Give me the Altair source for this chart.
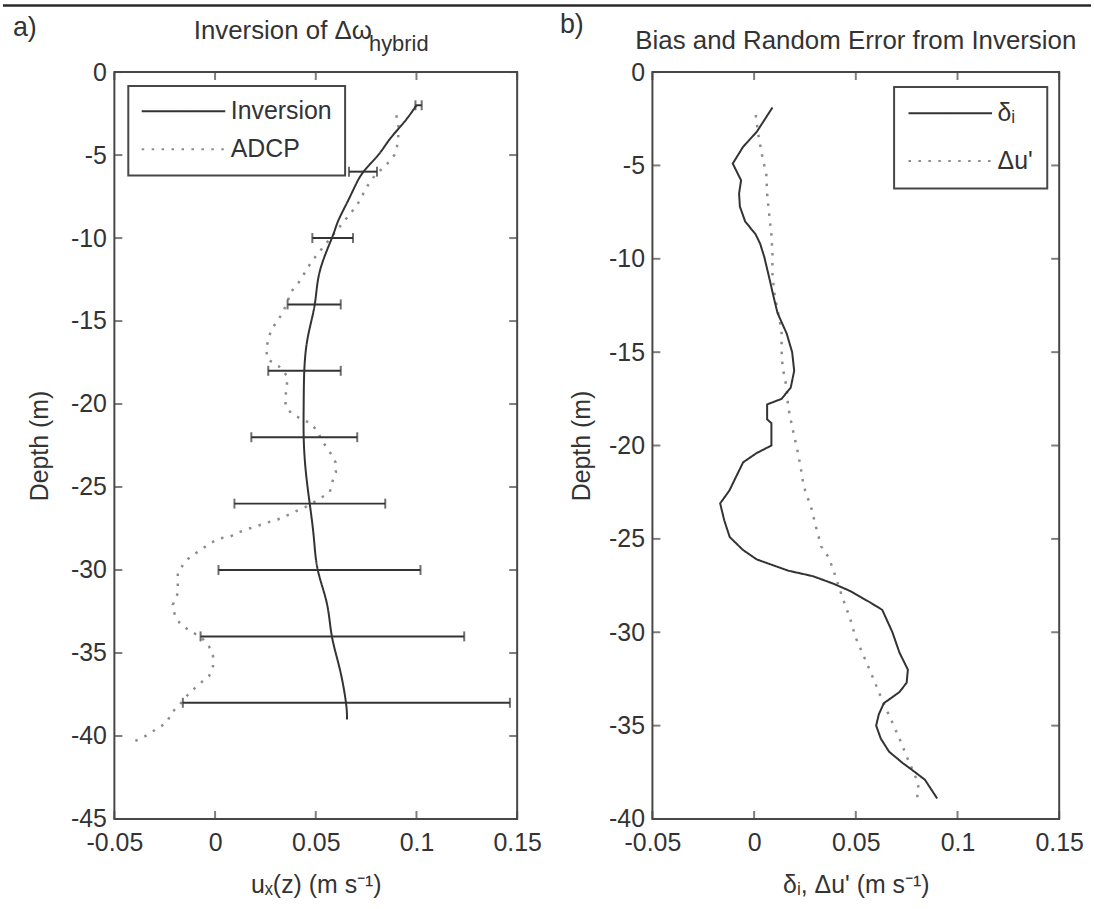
import altair as alt
import pandas as pd

# ---------------- data ----------------
# panel a) : inversion profile (solid) and ADCP profile (dotted)
inv_depth = [-2, -3, -4, -5, -6, -7, -8, -9, -10, -12, -14, -16, -18, -20, -22, -24,
             -26, -28, -30, -32, -34, -36, -38, -39]
inv_u = [0.100, 0.094, 0.087, 0.081, 0.0737, 0.069, 0.065, 0.061, 0.058, 0.052, 0.0495,
         0.046, 0.0443, 0.0440, 0.0440, 0.045, 0.047, 0.049, 0.051, 0.0555, 0.058, 0.062,
         0.065, 0.0655]

adcp_depth = [-2.6, -3.2, -3.8, -4.4, -5.0, -5.6, -6.2, -6.8, -7.3, -7.9, -8.4, -9.0, -9.6,
              -10.2, -10.8, -11.4, -12.0, -12.6, -13.2, -13.8, -14.4, -14.9, -15.5, -16.1,
              -16.7, -17.3, -17.7, -18.3, -18.9, -19.5, -20.1, -20.6, -20.9, -21.2, -21.7,
              -22.3, -22.9, -23.5, -24.1, -24.7, -25.3, -25.7, -26.2, -26.6, -26.9, -27.1,
              -27.3, -27.5, -27.7, -28.0, -28.1, -28.4, -28.8, -29.2, -29.7, -30.2, -30.8,
              -31.4, -32.1, -32.7, -33.2, -33.7, -34.0, -34.6, -35.2, -35.8, -36.4, -36.9,
              -37.5, -38.1, -38.6, -39.2, -39.6, -40.0, -40.3]
adcp_u = [0.090, 0.091, 0.091, 0.0905, 0.089, 0.085, 0.0795, 0.076, 0.0737, 0.071, 0.068,
          0.064, 0.060, 0.056, 0.052, 0.048, 0.045, 0.042, 0.038, 0.036, 0.034, 0.0315,
          0.028, 0.0264, 0.0254, 0.026, 0.0315, 0.0357, 0.0357, 0.035, 0.035, 0.038, 0.043,
          0.048, 0.051, 0.0536, 0.057, 0.0598, 0.060, 0.0582, 0.057, 0.052, 0.045, 0.0376,
          0.0325, 0.027, 0.022, 0.017, 0.0124, 0.0072, 0.0021, -0.0026, -0.0072, -0.0124,
          -0.016, -0.0185, -0.0185, -0.0185, -0.021, -0.020, -0.0175, -0.0124, -0.0072,
          -0.003, -0.001, -0.001, -0.003, -0.0082, -0.0134, -0.0175, -0.0216, -0.024,
          -0.0294, -0.0345, -0.0397]

err_depth = [-2, -6, -10, -14, -18, -22, -26, -30, -34, -38]
err_lo = [0.0995, 0.0665, 0.0483, 0.036, 0.0264, 0.018, 0.0096, 0.0017, -0.0072, -0.016]
err_hi = [0.1026, 0.0804, 0.0685, 0.0624, 0.0624, 0.0706, 0.0845, 0.102, 0.1237, 0.1464]

# panel b) : bias (solid) and random error (dotted)
delta_depth = [-1.9, -3.2, -4.0, -4.9, -5.8, -6.5, -7.2, -8.0, -8.7, -9.2, -9.9, -11.0, -12.0,
               -12.9, -14.0, -15.0, -16.0, -16.9, -17.5, -17.8, -18.6, -18.8, -20.0, -20.4,
               -20.9, -21.7, -22.4, -23.1, -24.0, -24.9, -25.6, -26.1, -26.7, -27.0, -27.4,
               -27.8, -28.4, -28.8, -30.0, -31.1, -32.0, -32.7, -33.2, -33.8, -34.4, -35.0,
               -35.7, -36.4, -37.0, -37.4, -37.9, -38.4, -38.9]
delta_val = [0.009, 0.0013, -0.0054, -0.0105, -0.0064, -0.0074, -0.007, -0.0044, 0.0008,
             0.003, 0.005, 0.0074, 0.0095, 0.0115, 0.016, 0.0187, 0.0197, 0.018, 0.0135,
             0.0064, 0.0064, 0.0085, 0.0085, 0.0013, -0.0054, -0.009, -0.0121, -0.0167,
             -0.0147, -0.012, -0.0054, 0.0013, 0.0167, 0.029, 0.039, 0.0474, 0.057, 0.063,
             0.068, 0.0715, 0.0756, 0.075, 0.0715, 0.0638, 0.0613, 0.060, 0.0623, 0.0664,
             0.073, 0.078, 0.084, 0.087, 0.090]

du_depth = [-2.3, -3.3, -4.4, -5.5, -6.5, -7.6, -8.7, -9.7, -10.8, -11.9, -13.0, -13.8, -14.9,
            -15.8, -16.9, -17.9, -19.0, -20.1, -21.1, -22.2, -23.3, -24.4, -25.4, -26.0,
            -27.0, -28.1, -29.2, -30.3, -31.3, -32.5, -33.6, -34.7, -35.7, -36.8, -37.9,
            -38.4, -38.9]
du_val = [0.0008, 0.002, 0.0038, 0.006, 0.0064, 0.0074, 0.0085, 0.009, 0.009, 0.010, 0.012,
          0.0135, 0.0135, 0.014, 0.016, 0.0167, 0.0187, 0.021, 0.0228, 0.0244, 0.028, 0.0305,
          0.033, 0.0367, 0.040, 0.0433, 0.047, 0.050, 0.054, 0.0587, 0.0628, 0.0674, 0.0715,
          0.0756, 0.080, 0.081, 0.080]

# axis ticks / labels
x_ticks = [-0.05, 0, 0.05, 0.1, 0.15]
ya_ticks = [0, -5, -10, -15, -20, -25, -30, -35, -40, -45]
yb_ticks = [0, -5, -10, -15, -20, -25, -30, -35, -40]

series_a = ["Inversion", "ADCP"]
series_b = ["\u03b4\u1d62", "\u0394u'"]

title_a_main = "Inversion of \u0394\u03c9"
title_a_sub = "hybrid"
title_b = "Bias and Random Error from Inversion"
xtitle_a = "u\u2093(z) (m s\u207b\u00b9)"
xtitle_b = "\u03b4\u1d62, \u0394u' (m s\u207b\u00b9)"
ytitle = "Depth (m)"

# ---------------- styling ----------------
FONT = "Liberation Sans"
INK = "#333333"
FRAME = "#474747"
DOT = "#8c8c8c"
FS = 25      # tick labels, legend, axis titles
FT = 26      # panel titles
WA, WB, H = 405, 409, 751
FIX = "replace(datum.label, '\u2212', '-')"

xs = alt.Scale(domain=[-0.05, 0.15], nice=False, zero=False)
ys_a = alt.Scale(domain=[-45, 0], nice=False, zero=False)
ys_b = alt.Scale(domain=[-40, 0], nice=False, zero=False)


def x_axis(title, w):
    return alt.Axis(values=x_ticks, format=".2~f", labelExpr=FIX, ticks=False, domain=False,
                    grid=False, labelFont=FONT, labelFontSize=FS, labelColor=INK,
                    labelPadding=12, labelFlush=False, labelOverlap=False,
                    title=title, titleFont=FONT, titleFontSize=FS, titleFontWeight="normal",
                    titleColor=INK, titleX=w / 2, titleY=66, titleAlign="center",
                    titleBaseline="middle", titleAngle=0)


def y_axis(vals, tx):
    return alt.Axis(values=vals, format="d", labelExpr=FIX, ticks=False, domain=False,
                    grid=False, labelFont=FONT, labelFontSize=FS, labelColor=INK,
                    labelPadding=8, labelFlush=False, labelOverlap=False,
                    title=ytitle, titleFont=FONT, titleFontSize=FS, titleFontWeight="normal",
                    titleColor=INK, titleX=tx, titleY=H / 2, titleAlign="center",
                    titleBaseline="middle", titleAngle=270)


def legend(lx, ly, pad, rowpad, mode):
    kw = dict(title=None, orient="none", legendX=lx, legendY=ly, direction="vertical",
              fillColor="white", strokeColor=FRAME, padding=pad, rowPadding=rowpad,
              symbolType="M-4,0H4", symbolSize=441, symbolOffset=30, labelOffset=35,
              symbolStrokeWidth=2, labelFont=FONT, labelFontSize=FS, labelColor=INK,
              labelLimit=400)
    if mode == 0:
        kw["strokeWidth"] = 2
    return alt.Legend(**kw)


def series_df(depth, vals, name, field):
    return pd.DataFrame({"val": vals, "depth": depth, field: name,
                         "idx": list(range(len(vals)))})


def line_layer(df, field, domain, yscale, xax, yax, leg, interp, sw):
    return alt.Chart(df).mark_line(interpolate=interp, strokeWidth=sw).encode(
        x=alt.X("val:Q", scale=xs, axis=xax),
        y=alt.Y("depth:Q", scale=yscale, axis=yax),
        order=alt.Order("idx:Q"),
        color=alt.Color(f"{field}:N", scale=alt.Scale(domain=domain, range=[INK, DOT]),
                        legend=leg),
        strokeDash=alt.StrokeDash(f"{field}:N",
                                  scale=alt.Scale(domain=domain, range=[[1, 0], [2.5, 7.5]]),
                                  legend=leg),
    )


def frame_ticks(yvals, yscale, w, xax, yax):
    tx = pd.DataFrame({"v": x_ticks})
    ty = pd.DataFrame({"v": yvals})
    st = dict(color=FRAME, thickness=2, size=8)
    return [
        alt.Chart(tx).mark_tick(orient="vertical", **st).encode(
            x=alt.X("v:Q", scale=xs, axis=xax), y=alt.value(H - 4)),
        alt.Chart(tx).mark_tick(orient="vertical", **st).encode(
            x=alt.X("v:Q", scale=xs, axis=xax), y=alt.value(4)),
        alt.Chart(ty).mark_tick(orient="horizontal", **st).encode(
            y=alt.Y("v:Q", scale=yscale, axis=yax), x=alt.value(4)),
        alt.Chart(ty).mark_tick(orient="horizontal", **st).encode(
            y=alt.Y("v:Q", scale=yscale, axis=yax), x=alt.value(w - 4)),
    ]


def text(t, x, y, size, align="center"):
    return alt.Chart(pd.DataFrame({"t": [t]})).mark_text(
        align=align, baseline="middle", font=FONT, fontSize=size, color=INK
    ).encode(text="t:N", x=alt.value(x), y=alt.value(y))


def build(mode):
    # ----- panel a -----
    fa = "series_a"
    xax_a = x_axis(xtitle_a, WA)
    yax_a = y_axis(ya_ticks, -75)
    leg_a = legend(14, 14, 13, 12, mode)
    inv_df = series_df(inv_depth, inv_u, series_a[0], fa)
    adcp_df = series_df(adcp_depth, adcp_u, series_a[1], fa)
    adcp_line = line_layer(adcp_df, fa, series_a, ys_a, xax_a, yax_a, leg_a, "linear", 2.5)
    inv_line = line_layer(inv_df, fa, series_a, ys_a, xax_a, yax_a, leg_a, "natural", 2)

    err_df = pd.DataFrame({"depth": err_depth, "lo": err_lo, "hi": err_hi})
    eb_rule = alt.Chart(err_df).mark_rule(color=INK, strokeWidth=2).encode(
        x=alt.X("lo:Q", scale=xs, axis=xax_a), x2="hi:Q",
        y=alt.Y("depth:Q", scale=ys_a, axis=yax_a))
    eb_lo = alt.Chart(err_df).mark_tick(orient="vertical", color=INK, thickness=2, size=10).encode(
        x=alt.X("lo:Q", scale=xs, axis=xax_a), y=alt.Y("depth:Q", scale=ys_a, axis=yax_a))
    eb_hi = alt.Chart(err_df).mark_tick(orient="vertical", color=INK, thickness=2, size=10).encode(
        x=alt.X("hi:Q", scale=xs, axis=xax_a), y=alt.Y("depth:Q", scale=ys_a, axis=yax_a))

    top_rule = alt.Chart(pd.DataFrame({"a": [0]})).mark_rule(
        color="#2a2a2a", strokeWidth=2.5).encode(
        x=alt.value(-112), x2=alt.value(982), y=alt.value(-67))

    left = alt.layer(
        adcp_line, inv_line, eb_rule, eb_lo, eb_hi,
        *frame_ticks(ya_ticks, ys_a, WA, xax_a, yax_a),
        text("a)", -90, -44, 27),
        text(title_a_main, 259, -41, FT, "right"),
        text(title_a_sub, 256, -28, 22, "left"),
        top_rule,
    ).properties(width=WA, height=H)

    # ----- panel b -----
    fb = "series_b"
    xax_b = x_axis(xtitle_b, WB)
    yax_b = y_axis(yb_ticks, -71)
    leg_b = legend(243, 15, 14, 22, mode)
    d_df = series_df(delta_depth, delta_val, series_b[0], fb)
    u_df = series_df(du_depth, du_val, series_b[1], fb)
    du_line = line_layer(u_df, fb, series_b, ys_b, xax_b, yax_b, leg_b, "linear", 2.5)
    d_line = line_layer(d_df, fb, series_b, ys_b, xax_b, yax_b, leg_b, "linear", 2)

    right = alt.layer(
        du_line, d_line,
        *frame_ticks(yb_ticks, ys_b, WB, xax_b, yax_b),
        text("b)", -81, -47, 27),
        text(title_b, WB / 2, -31, FT),
    ).properties(width=WB, height=H)

    chart = alt.HConcatChart(hconcat=[left, right], spacing=136, bounds="flush").resolve_scale(
        color="independent", strokeDash="independent", x="independent", y="independent"
    ).properties(padding=0)
    chart = chart.configure(font=FONT).configure_view(stroke=FRAME, strokeWidth=2)
    if mode == 1:
        chart = chart.configure_legend(strokeWidth=2)
    return chart


chart = None
for mode in (0, 1, 2):
    try:
        c = build(mode)
        c.to_dict()
        chart = c
        break
    except Exception:
        continue
if chart is None:
    chart = build(2)

chart.save("out.html", embed_options={"renderer": "svg", "actions": False})
